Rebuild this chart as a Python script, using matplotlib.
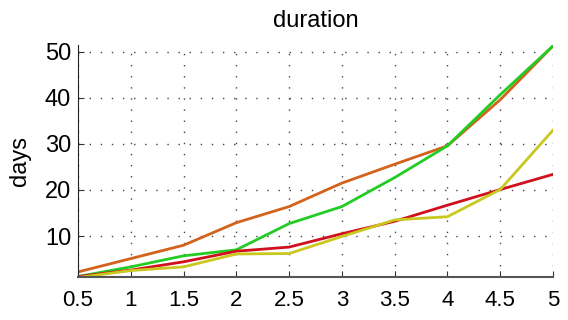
import matplotlib
matplotlib.use("Agg")
import matplotlib.pyplot as plt

x = [0.5, 1, 1.5, 2, 2.5, 3, 3.5, 4, 4.5, 5]
orange = [2.2, 5.1, 8.0, 12.9, 16.4, 21.5, 25.6, 29.6, 39.6, 51.3]
green = [1.2, 3.3, 5.7, 7.0, 12.7, 16.4, 22.7, 29.6, 40.7, 51.3]
red = [1.2, 2.6, 4.4, 6.7, 7.6, 10.5, 13.2, 16.7, 20.1, 23.4]
yellow = [1.0, 2.5, 3.3, 6.1, 6.2, 9.9, 13.5, 14.2, 20.1, 33.0]
series = [(orange, "#d2621c"), (green, "#22cc22"), (red, "#d0101c"), (yellow, "#c8c81e")]
xticks = [0.5, 1, 1.5, 2, 2.5, 3, 3.5, 4, 4.5, 5]
xticklabels = ["0.5", "1", "1.5", "2", "2.5", "3", "3.5", "4", "4.5", "5"]
yticks = [10, 20, 30, 40, 50]

plt.rcParams['font.family'] = ['Liberation Sans', 'DejaVu Sans']
fig = plt.figure(figsize=(5.68, 3.2), dpi=100)
ax = fig.add_axes([78/568, 1-277/320, 475/568, 232/320])
for vals, c in series:
    ax.plot(x, vals, color=c, lw=2)
ax.set_xlim(0.5, 5)
ax.set_ylim(1.1, 51.5)
ax.set_xticks(xticks)
ax.set_xticklabels(xticklabels)
ax.set_yticks(yticks)
ax.tick_params(direction='in', labelsize=16, length=4, color='#333333')
ax.tick_params(axis='y', labelsize=17, pad=5)
ax.tick_params(axis='x', pad=9)
ax.grid(True, linestyle=(0, (1, 7)), color='#444444', lw=1.0)
for s in ['top', 'right']:
    ax.spines[s].set_visible(False)
ax.spines['left'].set_color('#222222')
ax.spines['bottom'].set_color('#555555')
ax.spines['bottom'].set_linewidth(1.5)
ax.set_ylabel('days', fontsize=17, labelpad=10)
ax.set_title('duration', fontsize=17, pad=13)
fig.savefig('out.png', dpi=100)
